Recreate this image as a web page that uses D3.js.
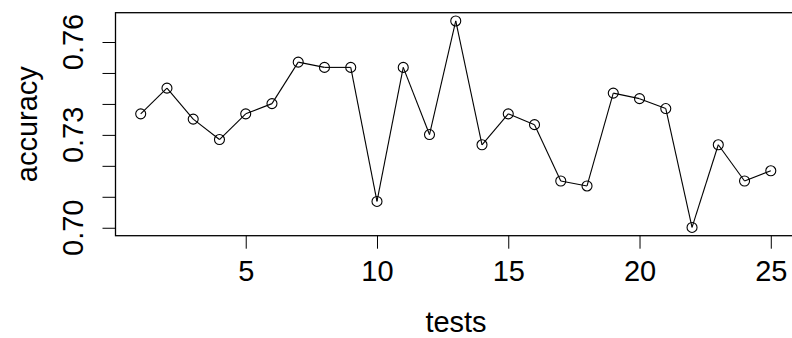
<!DOCTYPE html>
<html>
<head>
<meta charset="utf-8">
<script src="https://cdn.jsdelivr.net/npm/d3@7"></script>
<style>
  html, body { margin: 0; padding: 0; background: #fff; }
  svg text { font-family: "Liberation Sans", Arial, Helvetica, sans-serif; fill: #000; }
</style>
</head>
<body>
<svg id="chart"></svg>
<script>
// test number and accuracy
var tests = [1, 2, 3, 4, 5, 6, 7, 8, 9, 10, 11, 12, 13, 14, 15, 16, 17, 18, 19, 20, 21, 22, 23, 24, 25];
var accuracy = [0.7368, 0.7451, 0.7351, 0.7285, 0.7368, 0.7401, 0.7535, 0.7518, 0.7518, 0.7085,
                0.7518, 0.7301, 0.7668, 0.7268, 0.7368, 0.7333, 0.7151, 0.7135, 0.7435, 0.7417,
                0.7385, 0.7001, 0.7268, 0.7151, 0.7184];
var xTicks = [5, 10, 15, 20, 25];
var yTicks = [0.70, 0.71, 0.72, 0.73, 0.74, 0.75, 0.76];
var yLabels = [0.70, 0.73, 0.76];

var svgWidth = 792, svgHeight = 338;
var box = {left: 115.5, top: 12.7, right: 796, bottom: 235.7};

var data = tests.map(function (t, i) {
  return {test: t, acc: accuracy[i]};
});

var svg = d3.select("#chart")
  .attr("width", svgWidth)
  .attr("height", svgHeight);

// R style 4% padding around the data range
function padded(ext) {
  var d = (ext[1] - ext[0]) * 0.04;
  return [ext[0] - d, ext[1] + d];
}

var x = d3.scaleLinear()
  .domain(padded(d3.extent(data, function (d) { return d.test; })))
  .range([box.left, box.right]);
var y = d3.scaleLinear()
  .domain(padded(d3.extent(data, function (d) { return d.acc; })))
  .range([box.bottom, box.top]);

var fs = 29;

// x axis
var xAxis = svg.append("g")
  .attr("transform", "translate(0," + box.bottom + ")")
  .call(d3.axisBottom(x).tickValues(xTicks).tickSize(13).tickPadding(12).tickFormat(d3.format("d")));
xAxis.select(".domain").remove();
xAxis.selectAll("line").attr("stroke", "#000");
xAxis.selectAll("text")
  .attr("font-size", fs)
  .attr("font-family", "Liberation Sans, Arial, sans-serif");

// y axis
var yAxis = svg.append("g")
  .attr("transform", "translate(" + box.left + ",0)")
  .call(d3.axisLeft(y).tickValues(yTicks).tickSize(13).tickFormat(""));
yAxis.select(".domain").remove();
yAxis.selectAll("line").attr("stroke", "#000");

svg.append("g").selectAll("text")
  .data(yLabels)
  .enter().append("text")
  .attr("transform", function (d) {
    return "translate(83," + y(d) + ") rotate(-90)";
  })
  .attr("text-anchor", "middle")
  .attr("font-size", fs)
  .text(function (d) { return d3.format(".2f")(d); });

// frame
svg.append("rect")
  .attr("x", box.left)
  .attr("y", box.top)
  .attr("width", box.right - box.left)
  .attr("height", box.bottom - box.top)
  .attr("fill", "none")
  .attr("stroke", "#000")
  .attr("stroke-width", 1.3);

// axis titles
svg.append("text")
  .attr("x", 456)
  .attr("y", 332)
  .attr("text-anchor", "middle")
  .attr("font-size", fs)
  .text("tests");

svg.append("text")
  .attr("transform", "translate(37," + (box.top + box.bottom) / 2 + ") rotate(-90)")
  .attr("text-anchor", "middle")
  .attr("font-size", fs)
  .text("accuracy");

// segments between consecutive points
var segs = [];
for (var i = 0; i < data.length - 1; i++) {
  segs.push([x(data[i].test), y(data[i].acc), x(data[i + 1].test), y(data[i + 1].acc)]);
}
svg.append("g").selectAll("line")
  .data(segs)
  .enter().append("line")
  .attr("x1", function (s) { return s[0]; })
  .attr("y1", function (s) { return s[1]; })
  .attr("x2", function (s) { return s[2]; })
  .attr("y2", function (s) { return s[3]; })
  .attr("stroke", "#000")
  .attr("stroke-width", 1.1);

svg.append("g").selectAll("circle")
  .data(data)
  .enter().append("circle")
  .attr("cx", function (d) { return x(d.test); })
  .attr("cy", function (d) { return y(d.acc); })
  .attr("r", 5)
  .attr("fill", "none")
  .attr("stroke", "#000")
  .attr("stroke-width", 1.1);
</script>
</body>
</html>
